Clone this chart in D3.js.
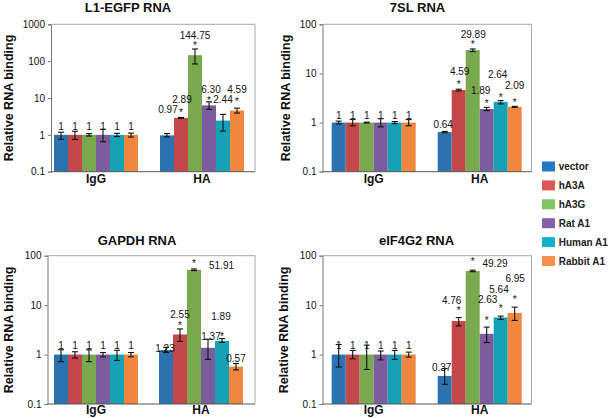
<!DOCTYPE html>
<html><head><meta charset="utf-8">
<script src="https://cdn.jsdelivr.net/npm/d3@7"></script>
<style>
body{margin:0;background:#fff;}
text{font-family:Arial,"Liberation Sans",sans-serif;}
</style></head>
<body><svg id="c" width="612" height="418"></svg>
<script>
// ---------- DATA ----------
const series = ["vector","hA3A","hA3G","Rat A1","Human A1","Rabbit A1"];
const groups = ["IgG","HA"];
const panelTitles = ["L1-EGFP RNA","7SL RNA","GAPDH RNA","eIF4G2 RNA"];
const yLabel = "Relative RNA binding";
const ticksA = ["0.1","1","10","100","1000"];
const ticksB = ["0.1","1","10","100"];

// L1-EGFP
const l1IgG = [1,1,1,1,1,1];
const l1IgGLo = [0.76,0.75,0.93,0.65,0.9,0.87];
const l1IgGHi = [1.18,1.25,1.08,1.42,1.1,1.12];
const l1HA = [0.97,2.89,144.75,6.30,2.44,4.59];
const l1HALo = [0.88,2.8,84,4.9,1.27,3.9];
const l1HAHi = [1.08,2.97,214,7.9,3.6,5.3];
const l1Star = [0,1,1,1,0,1];
// 7SL
const s7IgG = [1,1,1,1,1,1];
const s7IgGLo = [0.94,0.86,0.98,0.82,0.95,0.86];
const s7IgGHi = [1.07,1.15,1.02,1.2,1.05,1.15];
const s7HA = [0.64,4.59,29.89,1.89,2.64,2.09];
const s7HALo = [0.62,4.4,27.8,1.75,2.4,2.04];
const s7HAHi = [0.66,4.78,31.5,2.04,2.8,2.14];
const s7Star = [0,1,1,1,1,1];
// GAPDH
const gaIgG = [1,1,1,1,1,1];
const gaIgGLo = [0.72,0.85,0.72,0.9,0.76,0.9];
const gaIgGHi = [1.25,1.14,1.25,1.1,1.22,1.1];
const gaHA = [1.23,2.55,51.91,1.37,1.89,0.57];
const gaHALo = [1.1,1.85,50,0.8,1.76,0.49];
const gaHAHi = [1.4,3.3,54,2.05,2.1,0.66];
const gaStar = [0,1,1,0,1,0];
// eIF4G2
const eiIgG = [1,1,1,1,1,1];
const eiIgGLo = [0.56,0.82,0.5,0.78,0.8,0.89];
const eiIgGHi = [1.6,1.21,1.55,1.18,1.21,1.12];
const eiHA = [0.37,4.76,49.29,2.63,5.64,6.95];
const eiHALo = [0.25,3.8,47.5,1.75,5.15,4.9];
const eiHAHi = [0.52,5.6,51,3.6,6.0,9.1];
const eiStar = [0,1,1,1,1,1];

// ---------- STYLE / LAYOUT ----------
const barColors = ["#2a72b0","#c4474a","#78a94f","#7b5c9c","#15a2b6","#f0873f"];
const legendColors = ["#2179c4","#e05558","#80c663","#8660ad","#12b2cf","#f78f4e"];

const panels = [
 {title:panelTitles[0], ticks:ticksA, max:1000, frame:[51,255,24.3,171.7], band:[54,244], titleX:128, titleY:12, xLabY:183, ylabX:8.5,
  igg:l1IgG, iggLo:l1IgGLo, iggHi:l1IgGHi, ha:l1HA, haLo:l1HALo, haHi:l1HAHi, star:l1Star,
  iggLift:8, starLift:[0,7.1,11.9,7.1,0,11.1], labLift:[26,18.5,20.2,16.1,21.2,21.1], labDx:[1,1,0,2,0,0]},
 {title:panelTitles[1], ticks:ticksB, max:100, frame:[322.5,531.5,24.3,171.7], band:[331.7,521.7], titleX:417.5, titleY:12, xLabY:183, ylabX:285,
  igg:s7IgG, iggLo:s7IgGLo, iggHi:s7IgGHi, ha:s7HA, haLo:s7HALo, haHi:s7HAHi, star:s7Star,
  iggLift:7.6, starLift:[0,7.4,7.4,7.3,6.9,6.8], labLift:[8.1,19,15.8,19,27.9,21.8], labDx:[-1.5,1,0.5,-6,-3,0]},
 {title:panelTitles[2], ticks:ticksB, max:100, frame:[47.5,255,255.7,404], band:[54,243], titleX:137, titleY:244.5, xLabY:414, ylabX:8.5,
  igg:gaIgG, iggLo:gaIgGLo, iggHi:gaIgGHi, ha:gaHA, haLo:gaHALo, haHi:gaHAHi, star:gaStar,
  iggLift:9.2, starLift:[0,11.4,8.5,0,7.1,0], labLift:[2,20.5,4.5,11.4,24.5,7.9], labDx:[-1,0,27.5,3,-1,0]},
 {title:panelTitles[3], ticks:ticksB, max:100, frame:[322.5,531.5,255.7,404], band:[331.7,521.7], titleX:416.5, titleY:244.5, xLabY:414, ylabX:283.5,
  igg:eiIgG, iggLo:eiIgGLo, iggHi:eiIgGHi, ha:eiHA, haLo:eiHALo, haHi:eiHAHi, star:eiStar,
  iggLift:9.2, starLift:[0,12.3,11.2,15.7,11,15.6], labLift:[8.5,21,7.9,34.7,27.7,34.9], labDx:[-3,-7,22.3,1,-1.7,0.5]}
];

const svg = d3.select("#c");
const fmt = v => (v===1 ? "1" : d3.format(".2f")(v));

panels.forEach(p => {
  const [L,R,T,B] = p.frame;
  const g = svg.append("g");
  const y = d3.scaleLog().domain([0.1,p.max]).range([B,T]);
  const gap = p.band[1]-p.band[0]-168;
  const x0 = d3.scaleBand().domain(groups).range(p.band).paddingInner(gap/(gap+84)).paddingOuter(0);
  const x1 = d3.scaleBand().domain(series).range([0,x0.bandwidth()]).padding(0);

  // frame (top & right light gray)
  g.append("path").attr("d",`M${L},${T}H${R}V${B}`).attr("fill","none").attr("stroke","#a8a8a8").attr("stroke-width",1);

  // bars
  const rows = [];
  groups.forEach((gr,gi) => series.forEach((s,si) => {
    rows.push({gr, s, si, v: gi===0?p.igg[si]:p.ha[si], lo: gi===0?p.iggLo[si]:p.haLo[si], hi: gi===0?p.iggHi[si]:p.haHi[si], star: gi===0?0:p.star[si], gi});
  }));
  g.selectAll("rect.bar").data(rows).join("rect").attr("class","bar")
    .attr("x", d => x0(d.gr)+x1(d.s)).attr("width", x1.bandwidth())
    .attr("y", d => y(d.v)).attr("height", d => B - y(d.v))
    .attr("fill", d => barColors[d.si]);

  // error bars
  const eb = g.selectAll("g.eb").data(rows).join("g").attr("class","eb")
    .attr("transform", d => `translate(${x0(d.gr)+x1(d.s)+x1.bandwidth()/2},0)`);
  eb.append("line").attr("y1", d=>y(d.lo)).attr("y2", d=>y(d.hi)).attr("stroke","#111").attr("stroke-width",1.1);
  eb.append("line").attr("x1",-3).attr("x2",3).attr("y1", d=>y(d.lo)).attr("y2", d=>y(d.lo)).attr("stroke","#111").attr("stroke-width",1.1);
  eb.append("line").attr("x1",-3).attr("x2",3).attr("y1", d=>y(d.hi)).attr("y2", d=>y(d.hi)).attr("stroke","#111").attr("stroke-width",1.1);

  // stars
  eb.filter(d=>d.star).append("text").attr("text-anchor","middle").attr("font-size",10).attr("fill","#111")
    .attr("y", d => y(d.v) - p.starLift[d.si] + 5.7).text("*");
  // value labels
  eb.append("text").attr("text-anchor","middle").attr("font-size",10).attr("fill","#111")
    .attr("x", d => d.gi===0 ? 0 : p.labDx[d.si])
    .attr("y", d => y(d.v) - (d.gi===0 ? p.iggLift : p.labLift[d.si]) + 3.6)
    .text(d => fmt(d.v));

  // y axis
  const tv = p.ticks.map(Number);
  const ya = d3.axisLeft(y).tickValues(tv).tickFormat((d,i)=>p.ticks[i]).tickSize(3).tickPadding(3);
  const yg = g.append("g").attr("transform",`translate(${L},0)`).call(ya);
  yg.select(".domain").attr("stroke","#777");
  yg.selectAll(".tick line").attr("stroke","#777");
  yg.selectAll("text").attr("font-size",10).attr("fill","#111").attr("font-family","Arial, Liberation Sans, sans-serif");

  // x axis line
  g.append("line").attr("x1",L).attr("x2",R).attr("y1",B).attr("y2",B).attr("stroke","#555").attr("stroke-width",1);
  g.selectAll("text.xl").data(groups).join("text").attr("class","xl")
    .attr("x", d => x0(d)+x0.bandwidth()/2).attr("y", p.xLabY)
    .attr("text-anchor","middle").attr("font-size",12).attr("font-weight","bold").attr("fill","#111").text(d=>d);

  // title
  g.append("text").attr("x", p.titleX)
    .attr("y", p.titleY).attr("text-anchor","middle").attr("font-size",13).attr("font-weight","bold").attr("fill","#111").text(p.title);

  // y title
  g.append("text").attr("transform",`translate(${p.ylabX},${(T+B)/2}) rotate(-90)`).attr("dy","0.36em")
    .attr("text-anchor","middle").attr("font-size",12.5).attr("font-weight","bold").attr("fill","#111").text(yLabel);
});

// legend
const lg = svg.append("g");
series.forEach((s,i) => {
  const cy = 166.5 + i*18.9;
  lg.append("rect").attr("x",542).attr("y",cy-5).attr("width",13).attr("height",10).attr("fill",legendColors[i]);
  lg.append("text").attr("x",558.7).attr("y",cy+3.6).attr("font-size",10).attr("font-weight","bold").attr("fill","#222").text(s);
});
</script></body></html>
